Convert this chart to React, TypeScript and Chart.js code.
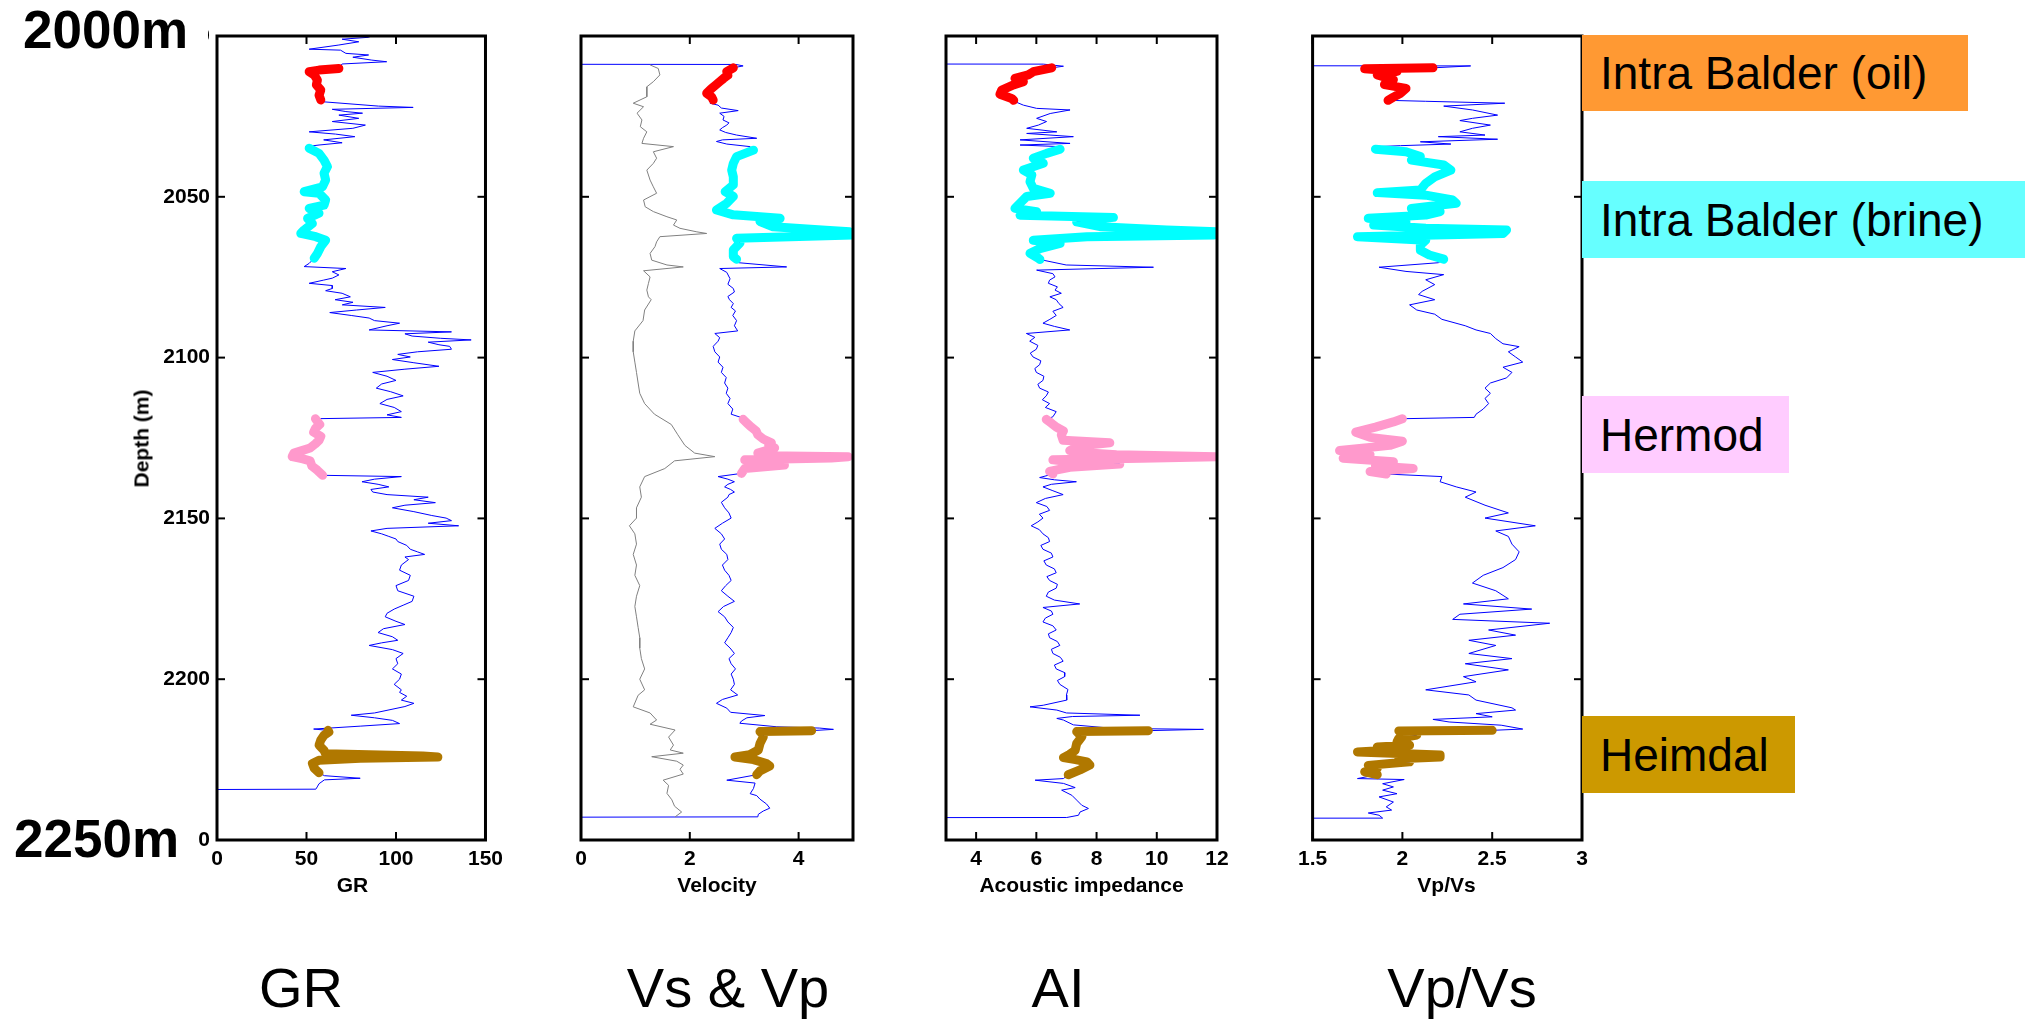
import React, { useEffect, useRef } from 'react';
import { Chart, registerables } from 'chart.js';

Chart.register(...registerables);

const FONT = "'Liberation Sans', Arial, Helvetica, sans-serif";

// ---------- depth axis ----------
const DEPTH_MIN = 2000;
const DEPTH_MAX = 2250;
const DEPTH_TICKS = [2000, 2050, 2100, 2150, 2200, 2250];

// ---------- zones ----------
const ZONE_NAMES = ['Intra Balder (oil)', 'Intra Balder (brine)', 'Hermod', 'Heimdal'];
const ZONE_TOP = [2009.8, 2034.6, 2118.8, 2215.7];
const ZONE_BASE = [2020.1, 2069.5, 2136.8, 2229.8];
const ZONE_LINE_COLORS = ['#ff0000', '#00ffff', '#ff99cc', '#b07800'];
const ZONE_BOX_COLORS = ['#ff9933', '#66ffff', '#ffccff', '#cc9900'];

// ---------- x axes ----------
const GR_TICKS = [0, 50, 100, 150];
const VEL_TICKS = [0, 2, 4];
const AI_TICKS = [4, 6, 8, 10, 12];
const VPVS_TICKS = [1.5, 2, 2.5, 3];

// ---------- logs: [depth (m), value] ----------
const GR_LOG: [number, number][] = [
  [2000.0, 86], [2000.4, 84.7], [2001.0, 69.9], [2001.8, 79.2], [2002.8, 68.1], [2004.1, 51.5], [2004.4, 69.0],
  [2005.4, 72.0], [2005.9, 84.7], [2006.6, 75.9], [2007.5, 86.5], [2008.0, 94.8], [2008.7, 69.9], [2009.3, 69.0],
  [2010.1, 68.1], [2010.6, 57.0], [2011.1, 51.5], [2012.1, 54.3], [2013.7, 56.1], [2015.2, 55.5], [2016.8, 58.0],
  [2018.4, 57.0], [2019.9, 58.0],
  [2020.4, 58.0], [2021.8, 90.2], [2022.2, 109.6], [2022.8, 64.4], [2023.5, 72.0], [2024.0, 81.3], [2024.6, 68.1],
  [2025.6, 79.2], [2026.6, 64.4], [2027.7, 82.9], [2028.7, 75.9], [2029.8, 51.5], [2030.5, 66.2], [2031.3, 77.0],
  [2032.3, 59.6], [2033.2, 69.9], [2033.9, 57.0], [2034.4, 49.6],
  [2034.9, 51.5], [2036.5, 57.0], [2038.6, 59.8], [2040.6, 61.7], [2042.7, 59.8], [2044.8, 60.7], [2046.9, 58.9],
  [2048.4, 48.7], [2048.9, 57.0], [2051.0, 60.7], [2052.6, 59.8], [2053.6, 51.5], [2055.1, 57.0], [2056.7, 50.6],
  [2058.3, 53.3], [2060.3, 48.7], [2061.4, 46.8], [2062.4, 55.2], [2063.5, 60.7], [2065.5, 58.0], [2067.6, 56.1],
  [2069.1, 54.3],
  [2070.7, 51.5], [2071.7, 48.7], [2072.3, 72.0], [2073.3, 64.4], [2074.3, 68.1], [2075.3, 64.4], [2075.9, 59.6],
  [2076.9, 51.5], [2077.6, 64.4], [2078.5, 64.4], [2079.2, 60.7], [2080.0, 69.9], [2081.1, 74.5], [2082.0, 66],
  [2082.8, 76], [2083.6, 70], [2084.4, 94], [2085.2, 78], [2086.0, 63], [2086.9, 75], [2087.7, 85], [2088.5, 88],
  [2089.3, 102], [2090.1, 95], [2091.4, 85], [2092.0, 131], [2092.6, 105], [2093.3, 109], [2094.0, 125],
  [2094.5, 142], [2095.2, 118], [2096.0, 124], [2096.5, 130], [2097.4, 131], [2098.2, 112], [2099.0, 101],
  [2099.8, 108], [2100.6, 98], [2101.6, 110], [2102.7, 124], [2103.6, 105], [2104.6, 87], [2105.8, 95],
  [2107.1, 100], [2108.2, 92], [2109.5, 89], [2110.6, 97], [2111.9, 104], [2113.0, 95], [2114.3, 91],
  [2115.5, 99], [2116.8, 103], [2117.8, 95], [2118.6, 103],
  [2119.0, 55], [2119.8, 56], [2120.8, 57.4], [2122.0, 55], [2123.2, 54], [2124.5, 58], [2125.7, 57], [2126.8, 55],
  [2128.1, 52], [2129.0, 47], [2129.7, 43], [2130.8, 42], [2131.5, 48], [2132.1, 52], [2133.7, 53], [2135.0, 56],
  [2136.6, 59],
  [2137.0, 103], [2137.8, 88], [2138.6, 81], [2139.4, 90], [2140.2, 96], [2141.0, 86], [2141.8, 87], [2142.6, 95],
  [2143.4, 118], [2144.2, 110], [2145.1, 122], [2145.9, 105], [2146.7, 98], [2147.9, 110], [2149.1, 120],
  [2149.9, 128], [2150.7, 131], [2151.5, 118], [2152.3, 135], [2153.1, 95], [2153.9, 86], [2154.8, 92],
  [2155.6, 96], [2156.4, 100], [2157.2, 101], [2158.4, 106], [2159.6, 108], [2160.4, 112], [2161.2, 116],
  [2162.0, 105], [2162.8, 107], [2164.5, 103], [2166.1, 102], [2167.7, 108], [2169.3, 107], [2170.9, 100],
  [2172.5, 101], [2174.2, 110], [2175.8, 109], [2177.0, 104], [2178.2, 99], [2179.5, 95], [2180.6, 94],
  [2182.0, 100], [2183.0, 105], [2184.3, 93], [2185.5, 90], [2186.8, 98], [2187.9, 101], [2188.7, 92],
  [2189.5, 85], [2190.8, 98], [2192.0, 104], [2193.6, 100], [2195.2, 101], [2196.8, 98], [2198.4, 103],
  [2200.0, 102], [2201.6, 99], [2203.3, 103], [2204.1, 102], [2205.3, 106], [2206.5, 103], [2207.5, 110],
  [2208.5, 105], [2210.5, 88], [2211.2, 75], [2212.0, 88], [2212.8, 98], [2213.8, 102], [2214.6, 80], [2215.5, 54],
  [2215.9, 62], [2216.4, 62.5], [2217.4, 59.8], [2218.9, 58], [2220.5, 57], [2222.1, 59.8], [2223.2, 60.7],
  [2223.9, 115], [2224.2, 123.4], [2224.6, 80], [2225.2, 57], [2226.2, 53.3], [2227.7, 54.3], [2229.1, 57],
  [2230.0, 60], [2230.8, 80], [2231.3, 60], [2232.5, 57], [2233.5, 56], [2234.2, 55.2], [2234.3, 0],
];

const VP_LOG: [number, number][] = [
  [2008.8, 0], [2008.85, 2.85], [2009.3, 2.98],
  [2009.9, 2.80], [2011.1, 2.68], [2012.2, 2.70], [2013.2, 2.62], [2014.2, 2.55], [2015.2, 2.48], [2016.3, 2.40],
  [2017.8, 2.31], [2018.9, 2.40], [2019.9, 2.43],
  [2020.9, 2.37], [2021.5, 2.52], [2022.4, 2.58], [2023.2, 2.89], [2024.0, 2.55], [2025.0, 2.63], [2026.1, 2.61],
  [2027.0, 2.72], [2027.7, 2.68], [2028.5, 2.60], [2029.2, 2.55], [2030.0, 2.66], [2030.8, 2.86], [2031.8, 3.23],
  [2032.3, 2.60], [2032.8, 2.49], [2033.6, 2.68], [2034.4, 3.11],
  [2035.5, 3.17], [2037.5, 2.86], [2039.6, 2.80], [2041.7, 2.77], [2043.8, 2.80], [2046.3, 2.80], [2048.4, 2.65],
  [2049.9, 2.80], [2052.0, 2.68], [2054.1, 2.49], [2055.6, 2.80], [2056.7, 3.66], [2057.7, 3.29], [2059.3, 3.53],
  [2060.4, 4.50], [2060.9, 4.94], [2061.9, 5.0], [2062.9, 2.86], [2064.4, 2.92], [2066.5, 2.80], [2068.6, 2.80],
  [2069.4, 2.86],
  [2070.5, 2.90], [2071.8, 3.78], [2072.3, 2.55], [2073.5, 2.68], [2075.5, 2.74], [2077.2, 2.70], [2078.5, 2.80],
  [2079.6, 2.82], [2081.0, 2.70], [2082.0, 2.73], [2083.2, 2.80], [2084.4, 2.76], [2085.5, 2.84], [2086.9, 2.79],
  [2088.5, 2.86], [2090.1, 2.82], [2091.7, 2.88], [2092.5, 2.46], [2093.8, 2.55], [2094.9, 2.52], [2096.5, 2.43],
  [2098.2, 2.46], [2099.8, 2.55], [2101.4, 2.52], [2103.0, 2.61], [2104.6, 2.58], [2106.2, 2.67], [2107.9, 2.64],
  [2109.5, 2.70], [2111.1, 2.67], [2112.7, 2.74], [2114.3, 2.70], [2116.0, 2.79], [2117.6, 2.76], [2118.6, 2.94],
  [2119.2, 2.98], [2120.4, 3.05], [2121.6, 3.13], [2122.8, 3.22], [2124.0, 3.25], [2125.3, 3.35], [2126.5, 3.50],
  [2127.3, 3.45], [2128.1, 3.56], [2129.7, 3.25], [2130.5, 3.4], [2130.8, 4.91], [2131.2, 4.6], [2131.8, 3.01],
  [2132.6, 3.3], [2133.4, 3.74], [2134.5, 3.01], [2136.0, 2.95],
  [2137.0, 2.52], [2137.8, 2.70], [2138.6, 2.82], [2139.4, 2.70], [2140.2, 2.64], [2141.0, 2.75], [2141.8, 2.82],
  [2142.6, 2.72], [2143.4, 2.70], [2145.0, 2.58], [2146.7, 2.64], [2148.3, 2.72], [2149.9, 2.76], [2151.5, 2.60],
  [2153.1, 2.46], [2154.8, 2.58], [2156.4, 2.64], [2158.0, 2.55], [2159.6, 2.58], [2161.2, 2.68], [2162.8, 2.70],
  [2164.5, 2.60], [2166.1, 2.64], [2167.7, 2.72], [2169.3, 2.76], [2170.9, 2.66], [2172.5, 2.58], [2174.2, 2.70],
  [2175.8, 2.82], [2177.4, 2.62], [2179.0, 2.52], [2180.6, 2.64], [2182.2, 2.70], [2183.9, 2.80], [2185.5, 2.76],
  [2187.1, 2.70], [2188.7, 2.64], [2190.3, 2.74], [2192.0, 2.82], [2193.6, 2.72], [2195.2, 2.76], [2196.8, 2.84],
  [2198.4, 2.76], [2200.0, 2.80], [2201.6, 2.82], [2203.3, 2.75], [2204.9, 2.88], [2206.3, 2.60], [2207.5, 2.49],
  [2209.0, 2.68], [2210.3, 2.75], [2211.3, 3.38], [2212.0, 3.05], [2213.0, 2.95], [2213.7, 2.92], [2214.8, 3.60],
  [2215.2, 4.39], [2215.6, 4.64],
  [2216.0, 4.24], [2216.3, 3.29], [2217.2, 3.35], [2218.0, 3.35], [2220.0, 3.29], [2222.0, 3.26], [2223.5, 3.10],
  [2224.2, 2.83], [2225.0, 3.17], [2226.2, 3.41], [2227.0, 3.47], [2228.5, 3.29], [2229.7, 3.23],
  [2231.4, 2.68], [2232.3, 3.20], [2234.0, 3.17], [2235.6, 3.11], [2236.2, 3.23], [2237.3, 3.29], [2238.8, 3.41],
  [2240.1, 3.47], [2241.0, 3.35], [2242.0, 3.26], [2242.8, 3.25], [2242.9, 0],
];

const VS_LOG: [number, number][] = [
  [2009.0, 1.27], [2010.1, 1.42], [2012.1, 1.45], [2014.2, 1.33], [2015.8, 1.21], [2018.9, 1.21], [2020.9, 0.96],
  [2022.0, 1.15], [2024.0, 1.03], [2026.1, 1.12], [2028.2, 1.09], [2029.8, 1.21], [2031.8, 1.15], [2033.4, 1.12],
  [2034.4, 1.70], [2036.0, 1.33], [2038.0, 1.39], [2039.6, 1.33], [2041.7, 1.21], [2044.8, 1.27], [2046.9, 1.33],
  [2048.9, 1.39], [2051.0, 1.15], [2053.1, 1.18], [2054.6, 1.33], [2056.2, 1.58], [2057.2, 1.76], [2058.8, 1.70],
  [2059.8, 1.82], [2060.9, 2.13], [2061.4, 2.31], [2062.4, 1.45], [2064.0, 1.39], [2065.5, 1.36], [2067.6, 1.27],
  [2069.7, 1.30], [2071.2, 1.58], [2071.8, 1.88], [2073.0, 1.15], [2074.9, 1.27], [2076.9, 1.24], [2079.0, 1.21],
  [2081.1, 1.24], [2082.0, 1.29], [2085.2, 1.17], [2088.5, 1.14], [2091.7, 0.99], [2094.9, 0.96], [2098.2, 0.96],
  [2101.4, 0.99], [2104.6, 1.02], [2107.9, 1.05], [2111.1, 1.08], [2114.3, 1.17], [2117.6, 1.35], [2120.8, 1.66],
  [2124.0, 1.78], [2127.3, 1.91], [2129.7, 2.09], [2130.8, 2.46], [2132.1, 1.72], [2134.5, 1.54], [2137.0, 1.17],
  [2140.2, 1.08], [2143.4, 1.11], [2146.7, 1.02], [2149.9, 1.02], [2152.3, 0.89], [2154.8, 0.99], [2158.0, 1.02],
  [2161.2, 0.96], [2164.5, 1.02], [2167.7, 0.99], [2170.9, 1.08], [2174.2, 1.02], [2177.4, 0.99], [2180.6, 1.02],
  [2183.9, 1.05], [2187.1, 1.08], [2190.3, 1.08], [2193.6, 1.11], [2196.8, 1.17], [2200.0, 1.08], [2203.3, 1.17],
  [2205.0, 1.05], [2208.6, 0.96], [2210.5, 1.27], [2212.7, 1.39], [2214.0, 1.27], [2215.8, 1.73], [2218.0, 1.61],
  [2220.5, 1.70], [2222.0, 1.64], [2223.0, 1.88], [2224.1, 1.30], [2225.5, 1.76], [2226.7, 1.88], [2228.0, 1.82],
  [2229.5, 1.88], [2231.4, 1.51], [2233.0, 1.61], [2235.5, 1.58], [2237.5, 1.67], [2239.5, 1.72], [2241.3, 1.85],
  [2242.8, 1.73],
];

const AI_LOG: [number, number][] = [
  [2008.7, 0], [2008.75, 6.23], [2009.4, 6.90],
  [2009.9, 6.51], [2011.1, 5.90], [2012.1, 5.73], [2013.2, 5.29], [2014.2, 5.57], [2015.2, 5.24], [2016.8, 4.85],
  [2018.1, 4.79], [2019.4, 5.18], [2020.0, 5.25],
  [2020.4, 5.29], [2021.5, 5.57], [2022.5, 6.01], [2023.0, 7.12], [2024.1, 6.46], [2025.6, 6.01], [2026.6, 6.34],
  [2027.7, 6.07], [2028.7, 5.68], [2029.8, 6.68], [2030.3, 5.68], [2031.3, 7.23], [2032.3, 5.46], [2033.4, 7.12],
  [2033.9, 5.46], [2034.4, 6.79],
  [2035.2, 6.79], [2036.5, 6.34], [2038.0, 5.90], [2039.6, 6.23], [2041.7, 5.57], [2043.2, 5.85], [2045.3, 5.79],
  [2047.4, 5.90], [2048.9, 6.46], [2049.9, 5.68], [2051.5, 5.51], [2053.6, 5.29], [2054.6, 6.01], [2055.7, 5.46],
  [2056.4, 8.56], [2057.8, 7.34], [2059.3, 8.12], [2060.3, 10.33], [2060.9, 12.0], [2061.9, 11.9], [2062.4, 7.68],
  [2063.5, 5.90], [2064.5, 6.79], [2066.1, 6.12], [2067.6, 5.79], [2069.1, 6.07], [2069.5, 6.12],
  [2071.2, 6.99], [2071.9, 9.89], [2072.8, 6.01], [2073.9, 6.55], [2074.9, 6.62], [2075.9, 6.44], [2076.9, 6.40],
  [2078.0, 6.70], [2079.0, 6.62], [2080.0, 6.83], [2081.1, 6.45], [2082.0, 6.66], [2083.2, 6.75], [2084.4, 6.89],
  [2085.6, 6.55], [2086.9, 6.66], [2088.1, 6.45], [2089.3, 6.22], [2090.3, 6.60], [2091.4, 7.11], [2092.5, 5.67],
  [2093.7, 5.95], [2094.9, 5.78], [2096.2, 6.05], [2097.4, 6.00], [2098.6, 5.80], [2099.8, 5.89], [2101.0, 6.15],
  [2102.2, 6.11], [2103.4, 5.95], [2104.6, 6.00], [2105.8, 6.25], [2107.1, 6.22], [2108.3, 6.05], [2109.5, 6.11],
  [2110.7, 6.40], [2111.9, 6.33], [2113.1, 6.20], [2114.3, 6.44], [2115.5, 6.30], [2116.8, 6.66], [2118.4, 6.55],
  [2119.2, 6.33], [2120.4, 6.50], [2121.6, 6.66], [2122.8, 6.90], [2124.0, 6.83], [2125.7, 6.89], [2126.5, 8.44],
  [2127.3, 7.55], [2128.1, 7.30], [2128.9, 7.11], [2129.6, 7.60], [2130.2, 8.66], [2130.8, 12.0], [2131.3, 9.5],
  [2131.8, 6.55], [2132.5, 7.20], [2133.1, 8.77], [2134.1, 7.11], [2135.4, 6.44], [2136.2, 6.55],
  [2137.3, 6.11], [2138.0, 6.60], [2138.6, 7.33], [2139.4, 6.50], [2140.2, 6.22], [2141.4, 6.55], [2142.6, 6.89],
  [2143.8, 6.30], [2145.1, 6.00], [2146.3, 6.35], [2147.5, 6.44], [2148.7, 6.10], [2149.9, 6.22], [2151.1, 6.05],
  [2152.3, 5.83], [2153.5, 6.10], [2154.8, 6.22], [2156.0, 6.40], [2157.2, 6.44], [2158.4, 6.15], [2159.6, 6.22],
  [2160.8, 6.50], [2162.0, 6.55], [2163.2, 6.25], [2164.5, 6.33], [2165.7, 6.60], [2166.9, 6.66], [2168.1, 6.35],
  [2169.3, 6.44], [2170.5, 6.70], [2171.7, 6.66], [2172.9, 6.40], [2174.2, 6.33], [2175.4, 6.60], [2176.6, 7.44],
  [2177.7, 6.22], [2178.8, 6.50], [2179.8, 6.55], [2181.0, 6.30], [2182.2, 6.22], [2183.4, 6.55], [2184.7, 6.66],
  [2185.9, 6.40], [2187.1, 6.44], [2188.3, 6.70], [2189.5, 6.78], [2190.7, 6.50], [2192.0, 6.55], [2193.2, 6.80],
  [2194.4, 6.89], [2195.6, 6.60], [2196.8, 6.66], [2198.0, 6.95], [2199.2, 6.94], [2200.4, 6.70], [2201.6, 6.78],
  [2203.2, 7.05], [2204.9, 7.00], [2206.5, 7.01], [2208.1, 6.23], [2208.6, 5.79], [2209.6, 6.68], [2210.5, 7.00],
  [2211.2, 9.44], [2211.6, 7.20], [2212.2, 6.68], [2212.7, 6.90], [2214.2, 7.23], [2215.3, 8.56], [2215.6, 11.55],
  [2216.0, 9.72], [2216.3, 7.34], [2217.9, 7.51], [2220.0, 7.34], [2222.1, 7.29], [2223.4, 7.10], [2224.4, 6.90],
  [2225.0, 7.30], [2225.7, 7.68], [2226.7, 7.78], [2228.2, 7.45], [2229.7, 7.06],
  [2230.9, 6.90], [2231.4, 5.96], [2232.4, 6.90], [2233.7, 7.29], [2234.5, 6.84], [2236.1, 7.18], [2237.6, 7.34],
  [2239.2, 7.51], [2240.2, 7.73], [2241.3, 7.45], [2242.3, 7.40], [2243.0, 7.01], [2243.05, 0],
];

const VPVS_LOG: [number, number][] = [
  [2009.2, 0], [2009.3, 2.38],
  [2009.9, 2.17], [2010.2, 1.79], [2011.0, 1.97], [2012.1, 1.86], [2013.6, 1.95], [2015.1, 1.90], [2016.3, 2.02],
  [2017.8, 1.99], [2019.0, 1.95], [2020.0, 1.92],
  [2020.3, 2.13], [2020.9, 2.57], [2021.8, 2.23], [2023.0, 2.39], [2024.6, 2.53], [2025.6, 2.39], [2026.3, 2.32],
  [2027.7, 2.49], [2028.7, 2.39], [2029.8, 2.32], [2030.8, 2.46], [2031.3, 2.20], [2032.1, 2.53], [2032.9, 2.10],
  [2033.6, 2.27], [2034.1, 1.99], [2034.4, 1.86],
  [2035.2, 1.85], [2036.0, 2.02], [2037.5, 2.10], [2038.6, 2.05], [2040.1, 2.23], [2041.7, 2.27], [2043.8, 2.18],
  [2045.8, 2.13], [2047.9, 2.10], [2048.7, 1.86], [2049.5, 2.13], [2051.0, 2.28], [2052.0, 2.30], [2053.6, 2.05],
  [2054.6, 2.21], [2055.7, 2.13], [2056.7, 1.81], [2057.8, 2.02], [2058.8, 1.84], [2059.8, 2.13], [2060.3, 2.58],
  [2061.4, 2.56], [2062.4, 1.75], [2063.5, 2.13], [2065.0, 2.10], [2066.6, 2.10], [2068.1, 2.15], [2069.4, 2.23],
  [2070.5, 2.20], [2071.9, 1.87], [2073.2, 2.02], [2074.2, 2.23], [2075.8, 2.13], [2077.3, 2.18], [2079.4, 2.11],
  [2080.4, 2.09], [2082.0, 2.18], [2083.6, 2.04], [2085.2, 2.08], [2086.5, 2.18], [2088.1, 2.22], [2090.1, 2.35],
  [2091.4, 2.41], [2092.5, 2.49], [2094.1, 2.52], [2095.7, 2.56], [2096.6, 2.65], [2098.2, 2.59], [2099.8, 2.63],
  [2101.4, 2.67], [2103.0, 2.56], [2104.6, 2.61], [2106.3, 2.58], [2107.9, 2.49], [2109.5, 2.46], [2111.1, 2.49],
  [2112.7, 2.46], [2114.3, 2.48], [2116.0, 2.45], [2117.6, 2.41], [2118.6, 2.40],
  [2119.0, 2.00], [2120.0, 1.95], [2121.6, 1.85], [2123.2, 1.74], [2124.8, 1.82], [2126.0, 2.00], [2127.3, 1.93],
  [2128.9, 1.65], [2130.2, 1.82], [2131.3, 1.67], [2132.4, 1.95], [2133.7, 1.85], [2134.5, 2.06], [2135.4, 1.82],
  [2136.2, 1.91],
  [2137.0, 2.22], [2138.6, 2.21], [2140.2, 2.30], [2141.8, 2.41], [2143.4, 2.35], [2145.9, 2.46], [2148.3, 2.59],
  [2149.9, 2.46], [2152.3, 2.74], [2153.9, 2.52], [2155.6, 2.59], [2158.0, 2.61], [2160.4, 2.65], [2162.8, 2.63],
  [2165.3, 2.56], [2167.7, 2.45], [2170.1, 2.39], [2172.5, 2.52], [2175.0, 2.59], [2176.6, 2.34], [2178.2, 2.72],
  [2179.8, 2.32], [2181.4, 2.28], [2182.6, 2.82], [2184.7, 2.48], [2186.3, 2.63], [2187.9, 2.37], [2189.5, 2.52],
  [2192.0, 2.37], [2193.6, 2.61], [2195.2, 2.35], [2197.1, 2.59], [2199.2, 2.34], [2200.8, 2.41], [2203.3, 2.13],
  [2204.9, 2.37], [2206.5, 2.41], [2208.9, 2.61], [2209.6, 2.63], [2210.7, 2.41], [2211.7, 2.50], [2212.5, 2.17],
  [2213.3, 2.26], [2214.3, 2.55], [2215.5, 2.67],
  [2215.9, 2.50], [2216.1, 1.98], [2216.4, 1.99], [2217.4, 2.08], [2218.4, 1.98], [2219.5, 1.97], [2220.5, 2.04],
  [2221.1, 1.86], [2222.1, 1.92], [2222.6, 1.75], [2223.6, 2.21], [2224.2, 2.21], [2224.7, 1.98], [2225.7, 2.04],
  [2226.8, 1.81], [2227.8, 1.86], [2228.8, 1.79], [2229.7, 1.86],
  [2230.9, 1.75], [2231.2, 2.01], [2232.5, 1.89], [2233.5, 1.95], [2234.5, 1.89], [2235.6, 1.97], [2236.6, 1.87],
  [2238.2, 1.95], [2239.7, 1.91], [2240.7, 1.94], [2241.6, 1.81], [2242.3, 1.87], [2243.2, 1.89], [2243.25, 0],
];

// ---------- layout (pixels) ----------
const PAGE_W = 2028;
const PAGE_H = 1019;
const PLOT_TOP = 36;
const PLOT_BOTTOM = 840;
const BLUE = '#0000ff';
const GRAY = '#808080';

type Curve = { log: [number, number][]; color: string; zones: boolean };
type Panel = {
  left: number; right: number; min: number; max: number; ticks: number[];
  title: string; caption: string; captionX: number; depthLabels: boolean; curves: Curve[];
};

const PANELS: Panel[] = [
  { left: 217, right: 488, min: 0, max: 150, ticks: GR_TICKS, title: 'GR', caption: 'GR', captionX: 301,
    depthLabels: true, curves: [{ log: GR_LOG, color: BLUE, zones: true }] },
  { left: 581, right: 853, min: 0, max: 5, ticks: VEL_TICKS, title: 'Velocity', caption: 'Vs & Vp', captionX: 728,
    depthLabels: false, curves: [{ log: VS_LOG, color: GRAY, zones: false }, { log: VP_LOG, color: BLUE, zones: true }] },
  { left: 946, right: 1217, min: 3, max: 12, ticks: AI_TICKS, title: 'Acoustic impedance', caption: 'AI', captionX: 1058,
    depthLabels: false, curves: [{ log: AI_LOG, color: BLUE, zones: true }] },
  { left: 1311, right: 1582, min: 1.5, max: 3, ticks: VPVS_TICKS, title: 'Vp/Vs', caption: 'Vp/Vs', captionX: 1462,
    depthLabels: false, curves: [{ log: VPVS_LOG, color: BLUE, zones: true }] },
];

const ZONE_BOXES = [
  { left: 1582, top: 35, width: 386, height: 76 },
  { left: 1582, top: 181, width: 443, height: 77 },
  { left: 1582, top: 396, width: 207, height: 77 },
  { left: 1582, top: 716, width: 213, height: 77 },
];

const framePlugin = {
  id: 'matlabFrame',
  afterDatasetsDraw(chart: any) {
    const { ctx, chartArea, scales } = chart;
    const { left, right, top, bottom } = chartArea;
    const x = scales.x;
    const y = scales.y;
    ctx.save();
    ctx.strokeStyle = '#000';
    ctx.lineWidth = 2;
    const seg = (x1: number, y1: number, x2: number, y2: number) => {
      ctx.beginPath();
      ctx.moveTo(x1, y1);
      ctx.lineTo(x2, y2);
      ctx.stroke();
    };
    x.ticks.forEach((t: any) => {
      const px = x.getPixelForValue(t.value);
      seg(px, bottom, px, bottom - 8);
      seg(px, top, px, top + 8);
    });
    y.ticks.forEach((t: any) => {
      const py = y.getPixelForValue(t.value);
      seg(left, py, left + 8, py);
      seg(right, py, right - 8, py);
    });
    ctx.lineWidth = 3;
    ctx.strokeRect(left, top, right - left, bottom - top);
    ctx.restore();
  },
};

function LogPanel({ panel }: { panel: Panel }) {
  const ref = useRef<HTMLCanvasElement>(null);
  const padL = panel.depthLabels ? 117 : 20;
  const padR = 22;
  const width = padL + (panel.right - panel.left) + padR;
  const canvasLeft = panel.left - padL;

  useEffect(() => {
    if (!ref.current) return;
    const datasets: any[] = [];
    panel.curves.forEach((c) => {
      datasets.push({
        data: c.log.map(([d, v]) => ({ x: v, y: d })),
        borderColor: c.color,
        backgroundColor: c.color,
        borderWidth: 1,
        pointRadius: 0,
        showLine: true,
        fill: false,
        order: 2,
      });
      if (c.zones) {
        ZONE_TOP.forEach((top, i) => {
          const pts = c.log
            .filter(([d]) => d >= top && d <= ZONE_BASE[i])
            .map(([d, v]) => ({ x: v, y: d }));
          datasets.push({
            data: pts,
            borderColor: ZONE_LINE_COLORS[i],
            backgroundColor: ZONE_LINE_COLORS[i],
            borderWidth: 9,
            borderCapStyle: 'round',
            borderJoinStyle: 'round',
            pointRadius: 0,
            showLine: true,
            fill: false,
            order: 1,
          });
        });
      }
    });

    const tickFont = { family: FONT, size: 21, weight: 'bold' as const };
    const chart = new Chart(ref.current, {
      type: 'scatter',
      data: { datasets },
      options: {
        animation: false,
        responsive: false,
        devicePixelRatio: 1,
        events: [],
        layout: { padding: { top: PLOT_TOP, right: padR, left: 0, bottom: 0 } },
        plugins: { legend: { display: false }, tooltip: { enabled: false } },
        scales: {
          x: {
            type: 'linear',
            position: 'bottom',
            min: panel.min,
            max: panel.max,
            afterBuildTicks: (axis: any) => {
              axis.ticks = panel.ticks.map((v) => ({ value: v }));
            },
            afterFit: (axis: any) => {
              axis.height = PAGE_H - PLOT_BOTTOM;
            },
            grid: { display: false, drawTicks: false },
            border: { display: false },
            ticks: {
              padding: 7,
              color: '#000',
              font: tickFont,
              maxRotation: 0,
              autoSkip: false,
              callback: (v: any) => String(v),
            },
          },
          y: {
            type: 'linear',
            position: 'left',
            reverse: true,
            min: DEPTH_MIN,
            max: DEPTH_MAX,
            afterBuildTicks: (axis: any) => {
              axis.ticks = DEPTH_TICKS.map((v) => ({ value: v }));
            },
            afterFit: (axis: any) => {
              axis.width = padL;
            },
            grid: { display: false, drawTicks: false },
            border: { display: false },
            ticks: {
              display: panel.depthLabels,
              padding: 7,
              color: '#000',
              font: tickFont,
              autoSkip: false,
              callback: (v: any) => String(v),
            },
          },
        },
      } as any,
      plugins: [framePlugin],
    });
    return () => chart.destroy();
  }, []);

  return (
    <canvas
      ref={ref}
      width={width}
      height={PAGE_H}
      style={{ position: 'absolute', left: canvasLeft, top: 0, width, height: PAGE_H }}
    />
  );
}

export default function App() {
  return (
    <div
      style={{
        position: 'absolute', left: 0, top: 0, width: PAGE_W, height: PAGE_H,
        background: '#fff', overflow: 'hidden', fontFamily: FONT, color: '#000',
      }}
    >
      {PANELS.map((p, i) => (
        <LogPanel key={i} panel={p} />
      ))}

      {PANELS.map((p, i) => (
        <div
          key={'t' + i}
          style={{
            position: 'absolute', left: (p.left + p.right) / 2 - 200, width: 400, top: 874,
            textAlign: 'center', fontSize: 21, lineHeight: '21px', fontWeight: 'bold', whiteSpace: 'nowrap',
          }}
        >
          {p.title}
        </div>
      ))}

      {PANELS.map((p, i) => (
        <div
          key={'c' + i}
          style={{
            position: 'absolute', left: p.captionX - 200, width: 400, top: 960,
            textAlign: 'center', fontSize: 56, lineHeight: '56px', whiteSpace: 'nowrap',
          }}
        >
          {p.caption}
        </div>
      ))}

      <div
        style={{
          position: 'absolute', left: 141 - 100, top: 438 - 10.5, width: 200, height: 21,
          textAlign: 'center', fontSize: 21, lineHeight: '21px', fontWeight: 'bold',
          transform: 'rotate(-90deg)', whiteSpace: 'nowrap',
        }}
      >
        Depth (m)
      </div>

      <div
        style={{
          position: 'absolute', left: 0, top: 0, width: 208, height: 60, background: '#fff',
          boxSizing: 'border-box', paddingLeft: 23, paddingTop: 3,
          fontSize: 53, lineHeight: '53px', fontWeight: 'bold', whiteSpace: 'nowrap',
        }}
      >
        2000m
      </div>
      <div
        style={{
          position: 'absolute', left: 0, top: 806, width: 198, height: 62, background: '#fff',
          boxSizing: 'border-box', paddingLeft: 14, paddingTop: 6,
          fontSize: 53, lineHeight: '53px', fontWeight: 'bold', whiteSpace: 'nowrap',
        }}
      >
        2250m
      </div>

      {ZONE_NAMES.map((name, i) => (
        <div
          key={'z' + i}
          style={{
            position: 'absolute', left: ZONE_BOXES[i].left, top: ZONE_BOXES[i].top,
            width: ZONE_BOXES[i].width, height: ZONE_BOXES[i].height, background: ZONE_BOX_COLORS[i],
            display: 'flex', alignItems: 'center', boxSizing: 'border-box', paddingLeft: 18,
            fontSize: 46, lineHeight: '46px', whiteSpace: 'nowrap',
          }}
        >
          {name}
        </div>
      ))}
    </div>
  );
}
